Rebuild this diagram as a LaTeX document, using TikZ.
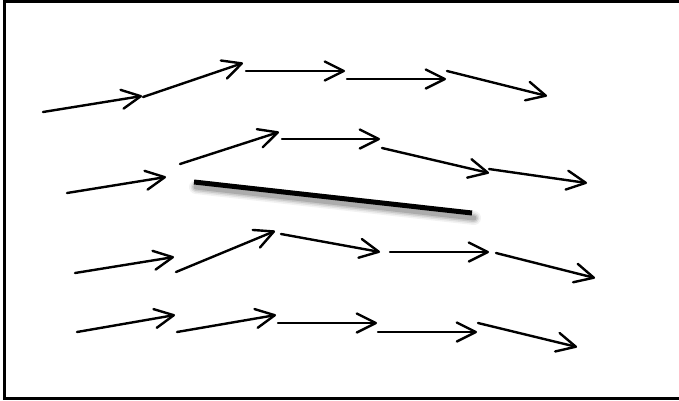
\documentclass[tikz,border=0pt]{standalone}
\usetikzlibrary{arrows.meta}
\tikzset{
  flow/.style={line width=2.4pt, line cap=round,
    -{Straight Barb[length=19pt,width=19pt,line width=2.4pt,round]}},
  frame/.style={line width=3pt},
  barrier/.style={line width=5pt, line cap=butt},
  shade/.style={line cap=round, draw=black}
}
\begin{document}
\begin{tikzpicture}[x=1pt,y=-1pt]
\useasboundingbox (0,0) rectangle (679,400);
\fill[white] (0,0) rectangle (679,400);
% frame (left, top, bottom)
\draw[frame] (679,1) -- (4,1) -- (4,398) -- (679,398);
% row 1
\coordinate (a0) at (43,112);  \coordinate (a1) at (142,96);
\coordinate (a2) at (143,97);  \coordinate (a3) at (243,63);
\coordinate (a4) at (246,71);  \coordinate (a5) at (345,71);
\coordinate (a6) at (347,79);  \coordinate (a7) at (446,79);
\coordinate (a8) at (447,71);  \coordinate (a9) at (547,96);
\draw[flow] (a0) -- (a1);
\draw[flow] (a2) -- (a3);
\draw[flow] (a4) -- (a5);
\draw[flow] (a6) -- (a7);
\draw[flow] (a8) -- (a9);
% row 2
\coordinate (b0) at (67,193);  \coordinate (b1) at (166,177);
\coordinate (b2) at (180,164); \coordinate (b3) at (279,132);
\coordinate (b4) at (282,139); \coordinate (b5) at (380,139);
\coordinate (b6) at (382,148); \coordinate (b7) at (489,173);
\coordinate (b8) at (489,169); \coordinate (b9) at (587,183);
\draw[flow] (b0) -- (b1);
\draw[flow] (b2) -- (b3);
\draw[flow] (b4) -- (b5);
\draw[flow] (b6) -- (b7);
\draw[flow] (b8) -- (b9);
% row 3
\coordinate (c0) at (75,273);  \coordinate (c1) at (174,257);
\coordinate (c2) at (176,272); \coordinate (c3) at (275,231);
\coordinate (c4) at (281,234); \coordinate (c5) at (380,252);
\coordinate (c6) at (390,252); \coordinate (c7) at (489,252);
\coordinate (c8) at (496,253); \coordinate (c9) at (595,278);
\draw[flow] (c0) -- (c1);
\draw[flow] (c2) -- (c3);
\draw[flow] (c4) -- (c5);
\draw[flow] (c6) -- (c7);
\draw[flow] (c8) -- (c9);
% row 4
\coordinate (d0) at (77,332);  \coordinate (d1) at (175,315);
\coordinate (d2) at (177,332); \coordinate (d3) at (276,315);
\coordinate (d4) at (278,323); \coordinate (d5) at (377,323);
\coordinate (d6) at (378,332); \coordinate (d7) at (477,332);
\coordinate (d8) at (478,323); \coordinate (d9) at (577,347);
\draw[flow] (d0) -- (d1);
\draw[flow] (d2) -- (d3);
\draw[flow] (d4) -- (d5);
\draw[flow] (d6) -- (d7);
\draw[flow] (d8) -- (d9);
% barrier with soft shadow
\coordinate (s0) at (194,182); \coordinate (s1) at (472,213);
\foreach \w/\o in {14/0.05,11/0.07,8/0.1,5/0.14}{
  \draw[shade, line width=\w pt, draw opacity=\o] ([shift={(2,5)}]s0) -- ([shift={(2,5)}]s1);
}
\draw[barrier] (s0) -- (s1);
\end{tikzpicture}
\end{document}
